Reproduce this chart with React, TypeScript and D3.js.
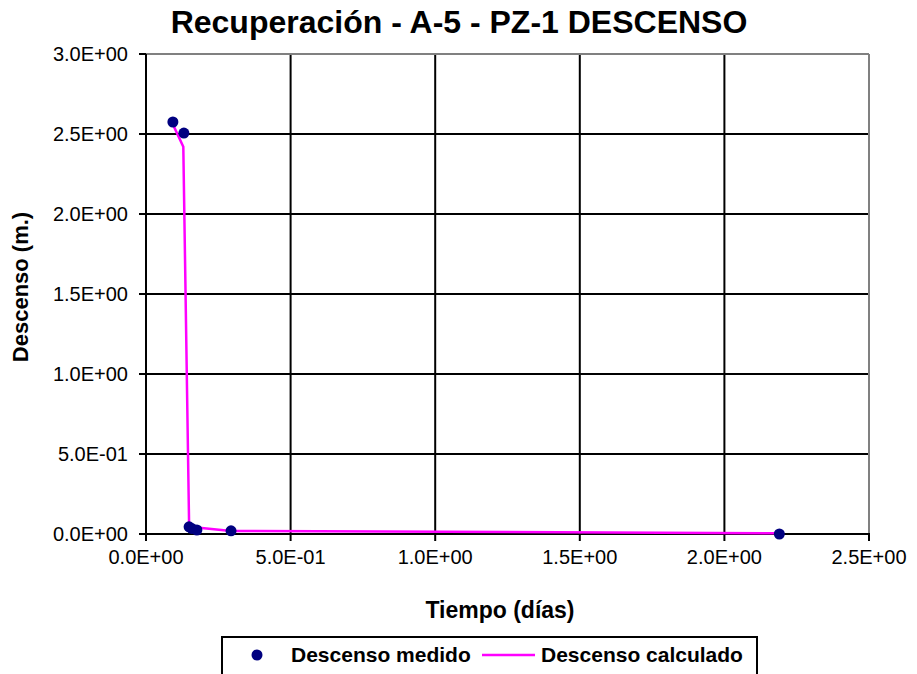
import React from "react";
import * as d3 from "d3";

const measuredX = [0.093, 0.131, 0.149, 0.158, 0.176, 0.294, 2.19];
const measuredY = [2.575, 2.506, 0.045, 0.035, 0.025, 0.02, 0.0];
const calcX = [0.093, 0.129, 0.149, 0.176, 0.294, 2.19];
const calcY = [2.56, 2.42, 0.06, 0.04, 0.019, 0.005];
const xTicks = [0, 0.5, 1.0, 1.5, 2.0, 2.5];
const yTicks = [0, 0.5, 1.0, 1.5, 2.0, 2.5, 3.0];
const xTickLabels = ["0.0E+00", "5.0E-01", "1.0E+00", "1.5E+00", "2.0E+00", "2.5E+00"];
const yTickLabels = ["0.0E+00", "5.0E-01", "1.0E+00", "1.5E+00", "2.0E+00", "2.5E+00", "3.0E+00"];

const W = 917, H = 674;
const L = 146, R = 869, T = 54, B = 534;
const FONT = "'Liberation Sans', Arial, sans-serif";

export default function App() {
  const x = d3.scaleLinear().domain([0, 2.5]).range([L, R]);
  const y = d3.scaleLinear().domain([0, 3]).range([B, T]);
  const line = d3.line<number>().x((_, i) => x(calcX[i])).y((_, i) => y(calcY[i]));
  const pathD = line(calcX) || "";
  return (
    <div style={{ position: "absolute", left: 0, top: 0 }}>
      <svg width={W} height={H} style={{ display: "block", background: "#fff" }}>
        <rect x={0} y={0} width={W} height={H} fill="#fff" />
        <text x={459} y={33} textAnchor="middle" fontFamily={FONT} fontWeight="bold" fontSize={32}>
          Recuperación - A-5 - PZ-1 DESCENSO
        </text>
        {/* gridlines */}
        {yTicks.filter((t) => t > 0 && t < 3).map((t) => (
          <line key={"gy" + t} x1={L} x2={R} y1={y(t)} y2={y(t)} stroke="#000" strokeWidth={2} />
        ))}
        {xTicks.filter((t) => t > 0 && t < 2.5).map((t) => (
          <line key={"gx" + t} x1={x(t)} x2={x(t)} y1={T} y2={B} stroke="#000" strokeWidth={2} />
        ))}
        {/* border grey */}
        <line x1={L} x2={R} y1={T} y2={T} stroke="#808080" strokeWidth={2} />
        <line x1={R} x2={R} y1={T} y2={B} stroke="#808080" strokeWidth={2} />
        {/* axes */}
        <line x1={L} x2={L} y1={T} y2={B + 1} stroke="#000" strokeWidth={2} />
        <line x1={L - 1} x2={R + 1} y1={B} y2={B} stroke="#000" strokeWidth={2} />
        {yTicks.map((t, i) => (
          <g key={"yt" + t}>
            <line x1={L - 7} x2={L} y1={y(t)} y2={y(t)} stroke="#000" strokeWidth={2} />
            <text x={128} y={y(t) + 7} textAnchor="end" fontFamily={FONT} fontSize={20}>
              {yTickLabels[i]}
            </text>
          </g>
        ))}
        {xTicks.map((t, i) => (
          <g key={"xt" + t}>
            <line x1={x(t)} x2={x(t)} y1={B} y2={B + 7} stroke="#000" strokeWidth={2} />
            <text x={x(t)} y={564} textAnchor="middle" fontFamily={FONT} fontSize={20}>
              {xTickLabels[i]}
            </text>
          </g>
        ))}
        {/* series */}
        <path d={pathD} fill="none" stroke="#FF00FF" strokeWidth={2.5} />
        {measuredX.map((v, i) => (
          <circle key={"m" + i} cx={x(v)} cy={y(measuredY[i])} r={5.5} fill="#000080" />
        ))}
        {/* axis titles */}
        <text x={500} y={618} textAnchor="middle" fontFamily={FONT} fontWeight="bold" fontSize={23}>
          Tiempo (días)
        </text>
        <text transform="translate(28,287) rotate(-90)" textAnchor="middle" fontFamily={FONT} fontWeight="bold" fontSize={22}>
          Descenso (m.)
        </text>
        {/* legend */}
        <rect x={222} y={637} width={535} height={50} fill="#fff" stroke="#000" strokeWidth={2} />
        <circle cx={257} cy={655} r={5.5} fill="#000080" />
        <text x={291} y={662} fontFamily={FONT} fontWeight="bold" fontSize={21}>Descenso medido</text>
        <line x1={482} x2={535} y1={655} y2={655} stroke="#FF00FF" strokeWidth={2.5} />
        <text x={541} y={662} fontFamily={FONT} fontWeight="bold" fontSize={21}>Descenso calculado</text>
      </svg>
    </div>
  );
}
